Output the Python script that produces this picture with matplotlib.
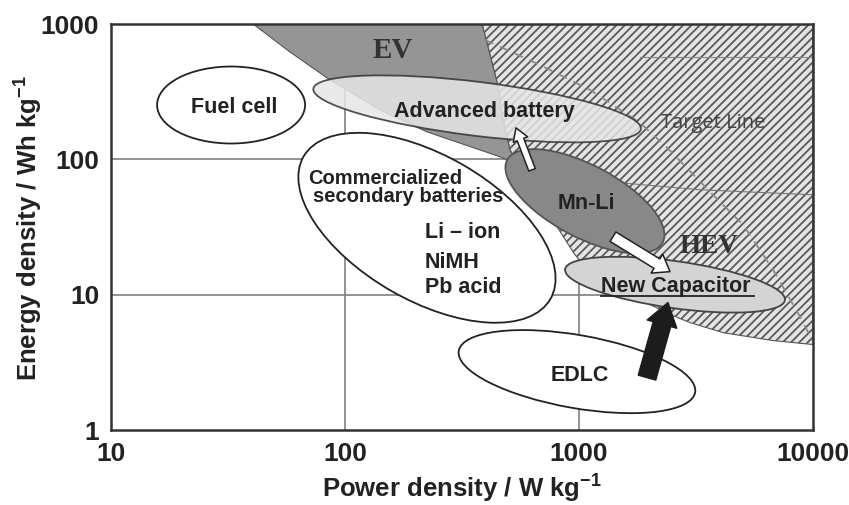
import matplotlib
matplotlib.use("Agg")
import matplotlib.pyplot as plt
from matplotlib.patches import Ellipse, Polygon, FancyArrowPatch
from matplotlib.transforms import ScaledTranslation

plt.rcParams['font.family'] = ['Liberation Sans', 'DejaVu Sans']
plt.rcParams['mathtext.fontset'] = 'custom'
plt.rcParams['mathtext.rm'] = 'Liberation Sans:bold'
plt.rcParams['mathtext.bf'] = 'Liberation Sans:bold'
plt.rcParams['mathtext.it'] = 'Liberation Sans:bold'
plt.rcParams['hatch.linewidth'] = 1.3

# Axis ticks / grid (W/kg, Wh/kg)
x_ticks = [10, 100, 1000, 10000]
y_ticks = [1, 10, 100, 1000]
x_grid = [100, 1000]
y_grid = [10, 100]

# EV region outline
ev_power = [40.5, 385, 417, 446, 473, 507, 549, 460, 224, 141, 86.3, 58.2]
ev_energy = [1000, 1000, 590, 373, 196, 117.5, 91.1, 104.4, 159.6, 232, 386, 621]

# HEV region outline
hev_power = [385, 10000, 10000, 6747, 4126, 2981, 2522, 1823, 1114, 961, 805, 681,
             549, 507, 473, 446, 417]
hev_energy = [1000, 1000, 4.28, 4.58, 5.24, 6.22, 7.0, 9.18, 14.8, 19.7, 31.8, 50.2,
              91.1, 117.5, 196, 373, 590]

# faint lines inside the HEV area
faint1_power = [1823, 10000]
faint1_energy = [571, 571]
faint2_power = [1497, 3289, 10000]
faint2_energy = [67.1, 59.6, 54.7]

# Target line
target_power = [397, 681, 1114, 1823, 2378, 3737, 5022, 6747, 8800, 10000]
target_energy = [762, 498, 326, 186, 122, 54.7, 32.9, 15.3, 6.88, 4.5]

# Device ellipses (centres)
blob_names = ['Fuel cell', 'Advanced battery', 'Commercialized', 'Mn-Li', 'New Capacitor', 'EDLC']
blob_power = [32.6, 367, 224, 1060, 2572, 980]
blob_energy = [252, 236, 31.2, 49, 11.85, 2.70]

# Arrows: (start power, start energy, end power, end energy)
arrow_from_power = [630, 1397, 1953]
arrow_from_energy = [83.7, 26.8, 2.44]
arrow_to_power = [538, 2448, 2400]
arrow_to_energy = [170.8, 14.8, 8.73]

# Labels
label_text = ['Fuel cell', 'Advanced battery', 'Mn-Li', 'New Capacitor', 'EDLC']
label_power = [33.5, 392.6, 1071, 2597, 1010]
label_energy = [220.4, 204.2, 42.9, 10.52, 2.29]

comm_text = ['Commercialized', 'secondary batteries', 'Li \u2013 ion', 'NiMH', 'Pb acid']
comm_power = [69.5, 73.0, 219.8, 219.8, 219.8]
comm_energy = [65.9, 48.6, 26.3, 15.85, 10.35]

fig = plt.figure(figsize=(8.49, 5.05), dpi=100)
ax = fig.add_axes([111 / 849, 75 / 505, 702 / 849, 406 / 505])
ax.set_xscale('log')
ax.set_yscale('log')
ax.set_xlim(10, 10000)
ax.set_ylim(1, 1000)

# grid
for g in x_grid:
    ax.axvline(g, color='#808080', lw=1.2, zorder=0.5)
for g in y_grid:
    ax.axhline(g, color='#808080', lw=1.2, zorder=0.5)

# HEV region (hatched)
hev_xy = list(zip(hev_power, hev_energy))
ax.add_patch(Polygon(hev_xy, closed=True, fc='#e4e4e4', ec='#555555', lw=0.8, zorder=1))
ax.add_patch(Polygon(hev_xy, closed=True, fc='none', ec='#5a5a5a', lw=0, hatch='////', zorder=1.1))

# EV region
ev_xy = list(zip(ev_power, ev_energy))
ax.add_patch(Polygon(ev_xy, closed=True, fc='#959595', ec='#555555', lw=0.8, zorder=1.2))

ax.plot(faint1_power, faint1_energy, color='#888888', lw=0.8, zorder=1.3)
ax.plot(faint2_power, faint2_energy, color='#777777', lw=0.8, zorder=1.3)
ax.plot(target_power, target_energy, color='#8a8a8a', lw=1.3, ls=(0, (5, 4)), zorder=1.4)

# ellipses: width px, height px, angle, face, edge, alpha
blob_style = [
    (148, 77, 0, 'white', '#222222', 1.0),
    (330, 54, -7, '#e6e6e6', '#333333', 0.85),
    (285, 145, -30, 'white', '#222222', 1.0),
    (176, 72, -28, '#888888', '#555555', 1.0),
    (222, 47, -8, '#d4d4d4', '#444444', 1.0),
    (240, 73, -10, 'white', '#222222', 1.0),
]
for px, py, (w, h, ang, fc, ec, al) in zip(blob_power, blob_energy, blob_style):
    tr = ScaledTranslation(px, py, ax.transData)
    e = Ellipse((0, 0), w, h, angle=ang, transform=tr, fc=fc, ec=ec, lw=1.3, alpha=al, zorder=2)
    ax.add_patch(e)

# arrows
arrow_style = [
    ('simple,head_length=9,head_width=11,tail_width=5', 'white', '#222222'),
    ('simple,head_length=11,head_width=16,tail_width=8', 'white', '#222222'),
    ('simple,head_length=16,head_width=22,tail_width=13', '#1c1c1c', '#1c1c1c'),
]
for x0, y0, x1, y1, (st, fc, ec) in zip(arrow_from_power, arrow_from_energy,
                                       arrow_to_power, arrow_to_energy, arrow_style):
    ax.add_patch(FancyArrowPatch((x0, y0), (x1, y1), arrowstyle=st, mutation_scale=1,
                                 fc=fc, ec=ec, lw=1.1, shrinkA=0, shrinkB=0, zorder=3))

# labels
txt_color = '#222222'
cap_txt = None
for t, x, y in zip(label_text, label_power, label_energy):
    tt = ax.text(x, y, t, ha='center', va='baseline', fontsize=15.5, fontweight='bold',
                 color=txt_color, zorder=4)
    if t == 'New Capacitor':
        cap_txt = tt
for t, x, y in zip(comm_text, comm_power, comm_energy):
    fs = 14.5 if x < 100 else 15.5
    ax.text(x, y, t, ha='left', va='baseline', fontsize=fs, fontweight='bold',
            color=txt_color, zorder=4)

ax.text(160.4, 561, 'EV', ha='center', va='baseline', fontsize=21, fontweight='bold',
        family='Liberation Serif', color='#333333', zorder=4)
ax.text(3593, 20.4, 'HEV', ha='center', va='baseline', fontsize=19.5, fontweight='bold',
        family='Liberation Serif', color='#333333', zorder=4)
ax.text(3756, 170, 'Target Line', ha='center', va='baseline', fontsize=14.5,
        family='Open Sans', color='#444444', zorder=4)

# axes styling
ax.set_xticks(x_ticks, labels=[str(v) for v in x_ticks])
ax.set_yticks(y_ticks, labels=[str(v) for v in y_ticks])
ax.minorticks_off()
ax.tick_params(length=0, labelsize=19, labelcolor='#222222', pad=8.5)
for lab in ax.get_xticklabels() + ax.get_yticklabels():
    lab.set_fontweight('bold')
for sp in ax.spines.values():
    sp.set_color('#333333')
    sp.set_linewidth(1.8)
    sp.set_zorder(5)

ax.set_xlabel(r'Power density / W kg$^{-1}$', fontsize=18.5, fontweight='bold', color='#222222')
ax.set_ylabel(r'Energy density / Wh kg$^{-1}$', fontsize=18.5, fontweight='bold', color='#222222')
ax.xaxis.label.set_va('baseline')
ax.xaxis.set_label_coords(0.5, -0.1675)
ax.yaxis.label.set_va('baseline')
ax.yaxis.set_label_coords(-0.105, 0.496)

# underline under "New Capacitor"
fig.canvas.draw()
bb = cap_txt.get_window_extent(fig.canvas.get_renderer())
inv = ax.transData.inverted()
(ux0, uy), (ux1, _) = inv.transform([(bb.x0, bb.y0 + 1), (bb.x1 + 3, bb.y0 + 1)])
ax.plot([ux0, ux1], [uy, uy], color='#222222', lw=1.3, zorder=4)

fig.savefig('out.png', dpi=100)
